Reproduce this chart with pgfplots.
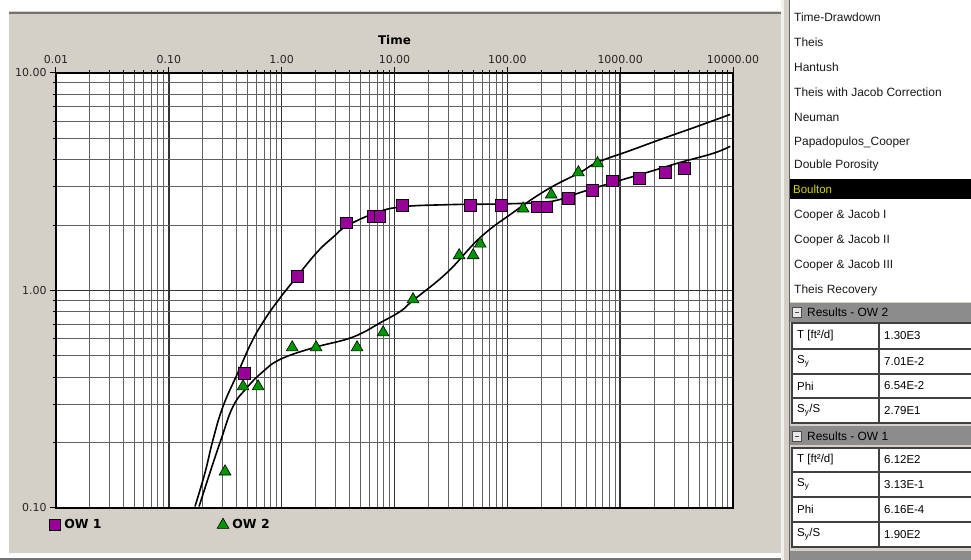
\documentclass[border=0pt]{standalone}
\usepackage{pgfplots}
\pgfplotsset{compat=1.18}
\usepackage{fontspec}
\setmainfont{Liberation Sans}
\newfontfamily\dvs{DejaVu Sans}
\definecolor{panel}{RGB}{212,208,200}
\definecolor{owone}{RGB}{153,0,153}
\definecolor{owtwo}{RGB}{0,150,0}
\definecolor{hdr}{RGB}{140,140,140}
\definecolor{sel}{RGB}{215,215,0}

\begin{document}
\begin{tikzpicture}[x=1bp,y=1bp]
\path[use as bounding box] (0,0) rectangle (971,560);
\fill[white] (0,0) rectangle (971,560);
% left window panel
\fill[panel] (9,7) rectangle (781,549);
\draw[black!55, line width=2bp] (9,547) -- (781,547);
\fill[white!92!panel] (9,3) rectangle (781,7);
\draw[black!55, line width=1.5bp] (0,1) -- (971,1);
% separator
\fill[white!70!panel] (781,0) rectangle (784,560);
\fill[panel] (784,0) rectangle (789,560);
\draw[black!60, line width=1.5bp] (789.5,0) -- (789.5,560);
% method list
\fill[white] (790.3,258) rectangle (971,560);
\fill[black] (790.3,361) rectangle (971,381);
\foreach \y/\t in {543/Time-Drawdown, 518/Theis, 493/Hantush, 468/Theis with Jacob Correction,
  443/Neuman, 418/Papadopulos\_Cooper, 395/Double Porosity,
  345/Cooper \& Jacob I, 320/Cooper \& Jacob II, 295/Cooper \& Jacob III, 270/Theis Recovery}
  \node[anchor=west, font=\fontsize{12}{13}\selectfont, text=black!90, inner sep=0pt] at (794,\y) {\t};
\node[anchor=west, font=\fontsize{11.5}{12}\selectfont, text=sel, inner sep=0pt] at (793,371) {Boulton};
% results tables
\fill[panel] (790.3,0) rectangle (971,258);
\foreach \top/\hy/\name in {257/247.5/Results - OW 2, 134/123.5/Results - OW 1} {
  \fill[hdr] (790.3,\top-19) rectangle (971,\top);
  \draw[black!70, fill=white!80!hdr] (792,\hy-5) rectangle (801,\hy+5);
  \draw[black!70, line width=1bp] (794.5,\hy) -- (798.5,\hy);
  \node[anchor=west, font=\fontsize{12}{13}\selectfont, inner sep=0pt] at (807,\hy) {\name};
}
\fill[hdr] (790.3,0) rectangle (971,9);
\foreach \a/\b in {237/137, 112/13} {
  \fill[white] (792,\b) rectangle (971,\a);
  \draw[black!75, line width=1.5bp] (792,\b) rectangle (975,\a);
  \draw[black!75, line width=2bp] (878.5,\b) -- (878.5,\a);
}
\foreach \y in {211,186,162,88,63,38}
  \draw[black!75, line width=1.5bp] (792,\y) -- (971,\y);
\foreach \y/\l/\v in {224/{T [ft²/d]}/1.30E3, 198.5/{S\textsubscript{y}}/7.01E-2, 174/Phi/6.54E-2,
  149.5/{S\textsubscript{y}/S}/2.79E1, 100/{T [ft²/d]}/6.12E2, 75.5/{S\textsubscript{y}}/3.13E-1,
  50.5/Phi/6.16E-4, 25.5/{S\textsubscript{y}/S}/1.90E2} {
  \node[anchor=west, font=\fontsize{11.5}{12}\selectfont, inner sep=0pt] at (797,\y) {\l};
  \node[anchor=west, font=\fontsize{11.5}{12}\selectfont, inner sep=0pt] at (884,\y) {\v};
}

\begin{axis}[
  at={(56bp,52bp)}, anchor=south west,
  scale only axis, width=677bp, height=435bp,
  xmode=log, ymode=log,
  xmin=0.01, xmax=10000, ymin=0.1, ymax=10,
  clip mode=individual,
  axis background/.style={fill=white},
  xtick pos=right, xticklabel pos=right,
  ytick pos=left, yticklabel pos=left,
  tick align=outside,
  major tick length=6bp, minor tick length=3bp,
  tick style={black, line width=1bp},
  xtick={0.01,0.1,1,10,100,1000,10000},
  xticklabels={0.01,0.10,1.00,10.00,100.00,1000.00,10000.00},
  minor xtick={0.02,0.03,0.04,0.05,0.06,0.07,0.08,0.09,
    0.2,0.3,0.4,0.5,0.6,0.7,0.8,0.9, 2,3,4,5,6,7,8,9,
    20,30,40,50,60,70,80,90, 200,300,400,500,600,700,800,900,
    2000,3000,4000,5000,6000,7000,8000,9000},
  ytick={0.1,1,10}, yticklabels={0.10,1.00,10.00},
  minor ytick={0.2,0.3,0.4,0.5,0.6,0.7,0.8,0.9,2,3,4,5,6,7,8,9},
  grid=both,
  major grid style={black!80, line width=1.5bp},
  minor grid style={black!62, line width=1bp},
  axis line style={black, line width=1.4bp},
  ticklabel style={font=\dvs\fontsize{11}{13}\selectfont, text=black!85},
  legend style={draw=none, fill=none, at={(0,0)}, anchor=west, xshift=-7bp, yshift=-17bp,
    inner sep=0pt, font=\dvs\bfseries\fontsize{12.5}{13}\selectfont,
    nodes={inner xsep=3.5bp},
    /tikz/every even column/.append style={column sep=112bp}},
  legend columns=2,
  legend image code/.code={\draw[#1] plot coordinates {(6bp,0bp)};},
]
% fitted curves
\addplot[black, line width=1.6bp, smooth, tension=0.7, forget plot] coordinates {
(0.1706,0.1016) (0.2094,0.1456) (0.2466,0.2065) (0.302,0.293) (0.410,0.420)
(0.547,0.585) (0.713,0.740) (0.968,0.925) (1.37,1.16) (2.06,1.50) (2.86,1.76)
(3.72,1.97) (6.46,2.25) (11.2,2.42) (29.3,2.48) (88,2.50) (200,2.54) (300,2.63)
(442,2.82) (867,3.14) (1734,3.49) (3404,3.88) (6670,4.27) (9440,4.60)};
\addplot[black, line width=1.6bp, smooth, tension=0.7, forget plot] coordinates {
(0.1854,0.1016) (0.2317,0.1456) (0.2904,0.2065) (0.3707,0.293) (0.4932,0.358)
(0.670,0.420) (0.968,0.482) (1.90,0.545) (3.80,0.598) (5.72,0.655) (7.45,0.71)
(11.2,0.800) (14.6,0.900) (29.3,1.21) (57.4,1.75) (112,2.28) (225,2.91) (442,3.49)
(625,3.88) (1227,4.40) (2404,5.00) (4819,5.68) (9440,6.45)};
% observations
\addplot[only marks, mark=square*, mark size=5.8bp, mark options={fill=owone, draw=black, line width=0.6bp}]
coordinates {(0.465,0.415) (1.37,1.16) (3.72,2.05) (6.46,2.19) (7.4,2.19) (11.7,2.46)
(46.8,2.46) (88,2.46) (183,2.43) (224,2.43) (346,2.65) (565,2.88) (849,3.2)
(1473,3.27) (2506,3.49) (3690,3.64)};
\addlegendentry{OW 1}
\addplot[only marks, mark=triangle*, mark size=6.8bp, mark options={fill=owtwo, draw=black, line width=0.6bp}]
coordinates {(0.315,0.147) (0.455,0.362) (0.618,0.362) (1.24,0.547) (2.02,0.547)
(4.66,0.547) (7.93,0.641) (14.6,0.91) (37.4,1.45) (49.8,1.45) (57.5,1.64) (138,2.38)
(245,2.76) (426,3.49) (630,3.84)};
\addlegendentry{OW 2}
\node[font=\dvs\bfseries\fontsize{12}{13}\selectfont] at (axis description cs:0.5,1) [yshift=33bp] {Time};
\end{axis}
\end{tikzpicture}
\end{document}
